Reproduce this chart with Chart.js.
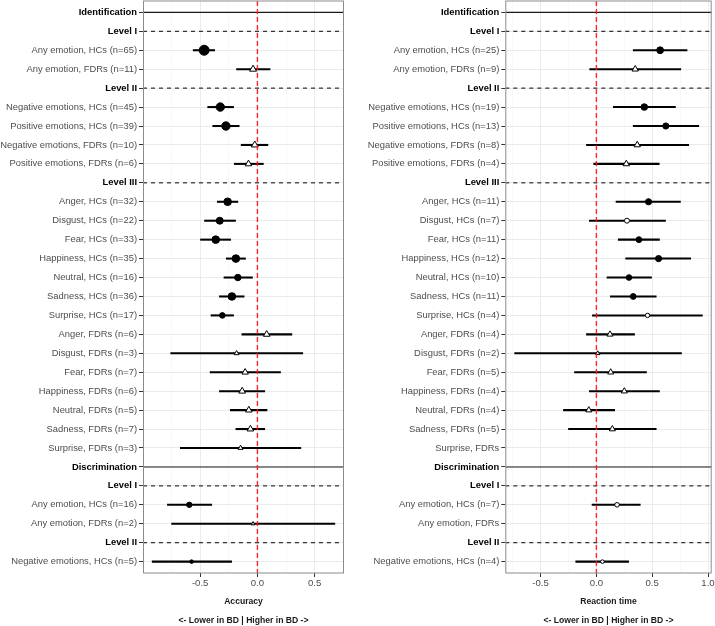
<!DOCTYPE html>
<html>
<head>
<meta charset="utf-8">
<script src="https://cdn.jsdelivr.net/npm/chart.js@4"></script>
<style>
  body { margin: 0; background: #fff; }
  #accChart { position: absolute; left: 0; top: 0; }
  #rtChart { position: absolute; left: 357px; top: 0; }
</style>
</head>
<body>
<canvas id="accChart" width="350" height="626"></canvas>
<canvas id="rtChart" width="358" height="626"></canvas>
<script>
// Forest plot: effect sizes (BD vs HCs / FDRs) for emotion identification & discrimination
const FONT = "'Liberation Sans', Arial, Helvetica, sans-serif";

// ---- Accuracy panel ----
const accLabels = [
  'Identification', 'Level I', 'Any emotion, HCs (n=65)', 'Any emotion, FDRs (n=11)',
  'Level II', 'Negative emotions, HCs (n=45)', 'Positive emotions, HCs (n=39)',
  'Negative emotions, FDRs (n=10)', 'Positive emotions, FDRs (n=6)',
  'Level III', 'Anger, HCs (n=32)', 'Disgust, HCs (n=22)', 'Fear, HCs (n=33)',
  'Happiness, HCs (n=35)', 'Neutral, HCs (n=16)', 'Sadness, HCs (n=36)', 'Surprise, HCs (n=17)',
  'Anger, FDRs (n=6)', 'Disgust, FDRs (n=3)', 'Fear, FDRs (n=7)', 'Happiness, FDRs (n=6)',
  'Neutral, FDRs (n=5)', 'Sadness, FDRs (n=7)', 'Surprise, FDRs (n=3)',
  'Discrimination', 'Level I', 'Any emotion, HCs (n=16)', 'Any emotion, FDRs (n=2)',
  'Level II', 'Negative emotions, HCs (n=5)'
];
const accEst = [null, null, -0.465, -0.038, null, -0.324, -0.275, -0.023, -0.078,
  null, -0.260, -0.329, -0.364, -0.188, -0.171, -0.223, -0.306,
  0.081, -0.182, -0.107, -0.133, -0.075, -0.061, -0.147,
  null, null, -0.595, -0.038, null, -0.575];
const accLo = [null, null, -0.561, -0.182, null, -0.434, -0.390, -0.142, -0.202,
  null, -0.350, -0.462, -0.497, -0.272, -0.292, -0.332, -0.405,
  -0.136, -0.757, -0.413, -0.332, -0.237, -0.188, -0.673,
  null, null, -0.786, -0.749, null, -0.919];
const accHi = [null, null, -0.373, 0.110, null, -0.208, -0.159, 0.092, 0.052,
  null, -0.171, -0.191, -0.234, -0.104, -0.043, -0.116, -0.208,
  0.301, 0.396, 0.202, 0.064, 0.084, 0.064, 0.379,
  null, null, -0.399, 0.676, null, -0.225];
const accWeight = [0, 0, 5, 4, 0, 4.2, 4.2, 4, 3.8,
  0, 3.8, 3.5, 3.8, 3.8, 3.2, 3.8, 2.8,
  3.8, 2.8, 3.7, 3.9, 3.8, 3.8, 2.8,
  0, 0, 2.7, 2.2, 0, 1.8];
const accSig = [0, 0, 1, 0, 0, 1, 1, 0, 0,
  0, 1, 1, 1, 1, 1, 1, 1,
  0, 0, 0, 0, 0, 0, 0,
  0, 0, 1, 0, 0, 1];
const accRange = [-0.999, 0.756];
const accTicks = [-0.75, -0.5, -0.25, 0, 0.25, 0.5, 0.75];

// ---- Reaction time panel ----
const rtLabels = [
  'Identification', 'Level I', 'Any emotion, HCs (n=25)', 'Any emotion, FDRs (n=9)',
  'Level II', 'Negative emotions, HCs (n=19)', 'Positive emotions, HCs (n=13)',
  'Negative emotions, FDRs (n=8)', 'Positive emotions, FDRs (n=4)',
  'Level III', 'Anger, HCs (n=11)', 'Disgust, HCs (n=7)', 'Fear, HCs (n=11)',
  'Happiness, HCs (n=12)', 'Neutral, HCs (n=10)', 'Sadness, HCs (n=11)', 'Surprise, HCs (n=4)',
  'Anger, FDRs (n=4)', 'Disgust, FDRs (n=2)', 'Fear, FDRs (n=5)', 'Happiness, FDRs (n=4)',
  'Neutral, FDRs (n=4)', 'Sadness, FDRs (n=5)', 'Surprise, FDRs',
  'Discrimination', 'Level I', 'Any emotion, HCs (n=7)', 'Any emotion, FDRs',
  'Level II', 'Negative emotions, HCs (n=4)'
];
const rtEst = [null, null, 0.571, 0.348, null, 0.429, 0.622, 0.366, 0.268,
  null, 0.467, 0.274, 0.381, 0.557, 0.292, 0.330, 0.458,
  0.122, 0.012, 0.128, 0.250, -0.068, 0.143, null,
  null, null, 0.185, null, null, 0.054];
const rtLo = [null, null, 0.330, -0.060, null, 0.152, 0.330, -0.089, -0.024,
  null, 0.176, -0.063, 0.196, 0.262, 0.095, 0.125, -0.036,
  -0.089, -0.732, -0.196, -0.063, -0.295, -0.250, null,
  null, null, -0.039, null, null, -0.185];
const rtHi = [null, null, 0.812, 0.756, null, 0.708, 0.917, 0.827, 0.563,
  null, 0.753, 0.619, 0.565, 0.845, 0.494, 0.536, 0.949,
  0.342, 0.762, 0.449, 0.565, 0.164, 0.536, null,
  null, null, 0.393, null, null, 0.289];
const rtWeight = [0, 0, 3.4, 3.7, 0, 3.3, 3.1, 3.7, 3.7,
  0, 3.1, 2.5, 2.9, 3.1, 2.8, 2.9, 2.2,
  3.5, 2.5, 3.5, 3.5, 3.5, 3.5, 0,
  0, 0, 2.3, 0, 0, 1.8];
const rtSig = [0, 0, 1, 0, 0, 1, 1, 0, 0,
  0, 1, 0, 1, 1, 1, 1, 0,
  0, 0, 0, 0, 0, 0, 0,
  0, 0, 0, 0, 0, 0];
const rtRange = [-0.816, 1.033];
const rtTicks = [-0.75, -0.5, -0.25, 0, 0.25, 0.5, 0.75, 1.0];

const subtitle = '<- Lower in BD | Higher in BD ->';

function isHeader(label) {
    if (!label) return false;
    return label === 'Identification' || label === 'Discrimination' || label.startsWith('Level');
}

function isMajor(v) {
    return Math.abs(v * 2 - Math.round(v * 2)) < 1e-6;
}

// draws the grey panel frame around the plotting area
const panelBorder = {
    id: 'panelBorder',
    afterDraw(chart) {
        const { ctx, chartArea: a } = chart;
        ctx.save();
        ctx.strokeStyle = '#8c8c8c';
        ctx.lineWidth = 1;
        ctx.strokeRect(a.left + 0.5, a.top, a.right - a.left - 1, a.bottom - a.top);
        ctx.restore();
    }
};

function makeForest(canvasId, labels, est, lo, hi, weight, sig, range, xTicks, xTitle, axisWidth, padRight) {
    const ctx = document.getElementById(canvasId).getContext('2d');
    const n = labels.length;

    // header separator lines (solid for task, dashed for level)
    const headerSets = [];
    labels.forEach((lab, i) => {
        if (!isHeader(lab)) return;
        const dashed = lab.startsWith('Level');
        headerSets.push({
            type: 'line',
            data: [{ x: range[0], y: i }, { x: range[1], y: i }],
            borderColor: '#1a1a1a',
            borderWidth: 1.1,
            borderDash: dashed ? [4, 4] : [],
            pointRadius: 0
        });
    });

    const ciData = [];
    const ptData = [];
    const ptStyle = [];
    const ptRadius = [];
    const ptFill = [];
    labels.forEach((lab, i) => {
        if (est[i] === null) return;
        ciData.push({ x: [lo[i], hi[i]], y: i });
        ptData.push({ x: est[i], y: i });
        ptStyle.push(lab.includes('FDRs') ? 'triangle' : 'circle');
        ptRadius.push(weight[i]);
        ptFill.push(sig[i] ? '#000' : '#fff');
    });

    return new Chart(ctx, {
        type: 'bar',
        data: {
            datasets: [
                {
                    // reference line at zero
                    type: 'line',
                    data: [{ x: 0, y: -0.6 }, { x: 0, y: n - 0.4 }],
                    borderColor: 'rgba(255,20,20,0.9)',
                    borderWidth: 1.4,
                    borderDash: [5, 3],
                    pointRadius: 0
                },
                {
                    type: 'line',
                    data: ptData,
                    showLine: false,
                    pointStyle: ptStyle,
                    pointRadius: ptRadius,
                    pointBackgroundColor: ptFill,
                    pointBorderColor: '#000',
                    pointBorderWidth: 1
                },
                {
                    type: 'bar',
                    data: ciData,
                    backgroundColor: '#000',
                    borderWidth: 0,
                    barThickness: 1.4
                },
                ...headerSets
            ]
        },
        options: {
            responsive: false,
            animation: false,
            events: [],
            indexAxis: 'y',
            layout: { autoPadding: false, padding: { top: 1, right: padRight, left: 0, bottom: 0 } },
            plugins: { legend: { display: false }, tooltip: { enabled: false } },
            scales: {
                x: {
                    type: 'linear',
                    position: 'bottom',
                    min: range[0],
                    max: range[1],
                    bounds: 'data',
                    afterBuildTicks: (axis) => { axis.ticks = xTicks.map(v => ({ value: v })); },
                    afterFit: (scale) => {
                        scale.height = 53;
                        scale.paddingLeft = 0;
                        scale.paddingRight = 0;
                    },
                    ticks: {
                        autoSkip: false,
                        maxRotation: 0,
                        padding: 1,
                        color: '#4d4d4d',
                        font: { family: FONT, size: 9.6 },
                        callback: (v) => (isMajor(v) ? v.toFixed(1) : '')
                    },
                    grid: {
                        color: (c) => (c.tick && isMajor(c.tick.value) ? '#ebebeb' : '#f4f4f4'),
                        lineWidth: (c) => (c.tick && isMajor(c.tick.value) ? 1 : 0.6),
                        tickColor: (c) => (c.tick && isMajor(c.tick.value) ? '#333' : 'rgba(0,0,0,0)'),
                        tickLength: 4
                    },
                    border: { display: false },
                    title: {
                        display: true,
                        text: [xTitle, '', subtitle],
                        color: '#1a1a1a',
                        font: { family: FONT, size: 8.6, weight: 'bold', lineHeight: 1.087 },
                        padding: { top: 0, bottom: 0.6 }
                    }
                },
                y: {
                    type: 'linear',
                    reverse: true,
                    min: -0.6,
                    max: n - 0.4,
                    bounds: 'data',
                    offset: false,
                    afterBuildTicks: (axis) => { axis.ticks = labels.map((_, i) => ({ value: i })); },
                    afterFit: (scale) => {
                        scale.width = axisWidth;
                        scale.paddingTop = 0;
                        scale.paddingBottom = 0;
                    },
                    ticks: {
                        autoSkip: false,
                        padding: 2,
                        callback: (v) => labels[v],
                        color: (c) => (isHeader(labels[c.index]) ? '#000' : '#4d4d4d'),
                        font: (c) => ({
                            family: FONT,
                            size: 9.4,
                            weight: isHeader(labels[c.index]) ? 'bold' : 'normal'
                        })
                    },
                    grid: {
                        offset: false,
                        color: '#ebebeb',
                        lineWidth: 1,
                        tickColor: '#333',
                        tickLength: 4
                    },
                    border: { display: false }
                }
            }
        },
        plugins: [panelBorder]
    });
}

makeForest('accChart', accLabels, accEst, accLo, accHi, accWeight, accSig,
    accRange, accTicks, 'Accuracy', 143, 6);
makeForest('rtChart', rtLabels, rtEst, rtLo, rtHi, rtWeight, rtSig,
    rtRange, rtTicks, 'Reaction time', 148.3, 3.3);
</script>
</body>
</html>
